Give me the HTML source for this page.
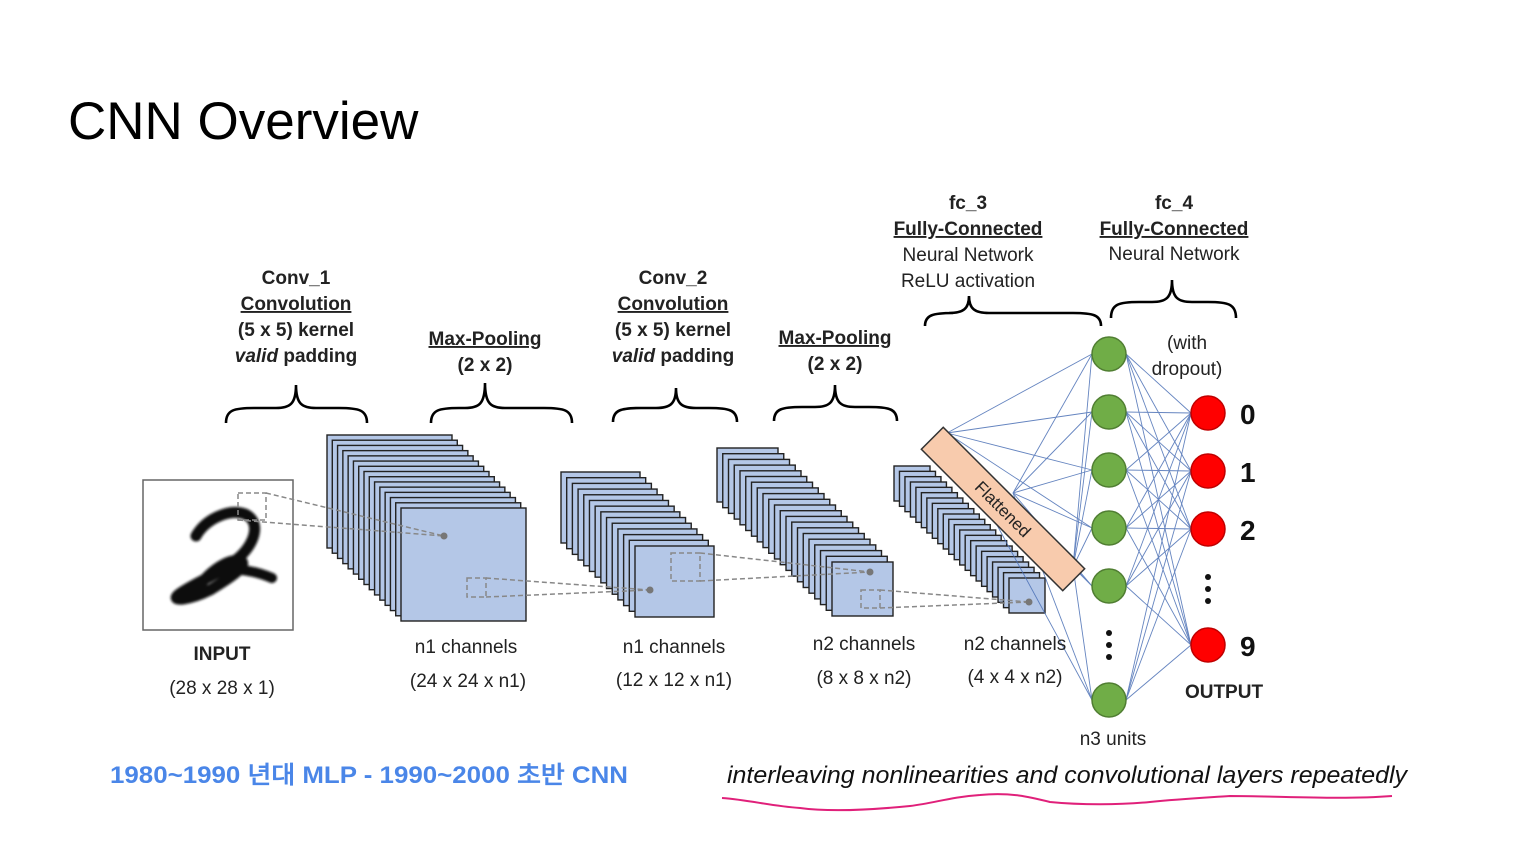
<!DOCTYPE html>
<html><head><meta charset="utf-8">
<style>
html,body{margin:0;padding:0;background:#fff;}
svg{display:block;}
text{font-family:"Liberation Sans",sans-serif;}
</style></head>
<body>
<svg id="s" width="1528" height="858" viewBox="0 0 1528 858" xmlns="http://www.w3.org/2000/svg">
<rect width="1528" height="858" fill="#fff"/>
<text x="68" y="139" font-size="53" fill="#000">CNN Overview</text>

<g id="stacks"></g>
<g id="lines" stroke="#4a6fb5" stroke-width="0.9" opacity="0.85"></g>

<!-- input -->
<rect x="143" y="480" width="150" height="150" fill="#fff" stroke="#666" stroke-width="1.5"/>
<g fill="none" stroke="#111" stroke-linecap="round" stroke-linejoin="round" filter="url(#bl)">
<path d="M196 536 C205 520 228 508 245 514 C262 522 255 545 236 560 C218 575 190 585 178 595 C170 602 190 600 210 590 C230 578 250 565 240 560 C222 560 200 580 195 595" stroke-width="11"/>
<path d="M220 570 C240 568 258 572 272 578" stroke-width="10"/>
</g>
<defs><filter id="bl"><feGaussianBlur stdDeviation="1.2"/></filter></defs>

<!-- dashed connectors -->
<g fill="none" stroke="#888" stroke-width="1.5" stroke-dasharray="5,3">
<rect x="238" y="493" width="28" height="27"/>
<line x1="266" y1="493" x2="444" y2="536"/><line x1="238" y1="520" x2="444" y2="536"/>
<rect x="467" y="578" width="19" height="19"/>
<line x1="486" y1="578" x2="650" y2="590"/><line x1="486" y1="597" x2="650" y2="590"/>
<rect x="671" y="553" width="29" height="28"/>
<line x1="700" y1="553" x2="870" y2="572"/><line x1="700" y1="581" x2="870" y2="572"/>
<rect x="861" y="590" width="19" height="18"/>
<line x1="880" y1="590" x2="1029" y2="602"/><line x1="880" y1="608" x2="1029" y2="602"/>
</g>
<g fill="#777"><circle cx="444" cy="536" r="3.5"/><circle cx="650" cy="590" r="3.5"/><circle cx="870" cy="572" r="3.5"/><circle cx="1029" cy="602" r="3.5"/></g>

<!-- flattened -->
<g transform="translate(1003,509) rotate(45)">
<rect x="-100" y="-15.5" width="200" height="31" fill="#f8cbad" stroke="#333" stroke-width="1.5"/>
<text x="0" y="6" font-size="17" text-anchor="middle" fill="#222">Flattened</text>
</g>

<g id="nodes"></g>

<!-- braces -->
<g id="braces" fill="none" stroke="#000" stroke-width="2.6"></g>

<g font-size="19" fill="#222" text-anchor="middle">
<text x="296" y="284" font-weight="bold">Conv_1</text>
<text x="296" y="310" font-weight="bold" text-decoration="underline">Convolution</text>
<text x="296" y="336" font-weight="bold">(5 x 5) kernel</text>
<text x="296" y="362" font-weight="bold"><tspan font-style="italic">valid</tspan> padding</text>
<text x="485" y="345" font-weight="bold" text-decoration="underline">Max-Pooling</text>
<text x="485" y="371" font-weight="bold">(2 x 2)</text>
<text x="673" y="284" font-weight="bold">Conv_2</text>
<text x="673" y="310" font-weight="bold" text-decoration="underline">Convolution</text>
<text x="673" y="336" font-weight="bold">(5 x 5) kernel</text>
<text x="673" y="362" font-weight="bold"><tspan font-style="italic">valid</tspan> padding</text>
<text x="835" y="344" font-weight="bold" text-decoration="underline">Max-Pooling</text>
<text x="835" y="370" font-weight="bold">(2 x 2)</text>
<text x="968" y="209" font-weight="bold">fc_3</text>
<text x="968" y="235" font-weight="bold" text-decoration="underline">Fully-Connected</text>
<text x="968" y="261">Neural Network</text>
<text x="968" y="287">ReLU activation</text>
<text x="1174" y="209" font-weight="bold">fc_4</text>
<text x="1174" y="235" font-weight="bold" text-decoration="underline">Fully-Connected</text>
<text x="1174" y="260">Neural Network</text>
<text x="1187" y="349">(with</text>
<text x="1187" y="375">dropout)</text>
<text x="222" y="660" font-weight="bold">INPUT</text>
<text x="222" y="694">(28 x 28 x 1)</text>
<text x="466" y="653">n1 channels</text>
<text x="468" y="687">(24 x 24 x n1)</text>
<text x="674" y="653">n1 channels</text>
<text x="674" y="686">(12 x 12 x n1)</text>
<text x="864" y="650">n2 channels</text>
<text x="864" y="684">(8 x 8 x n2)</text>
<text x="1015" y="650">n2 channels</text>
<text x="1015" y="683">(4 x 4 x n2)</text>
<text x="1113" y="745">n3 units</text>
<text x="1224" y="698" font-weight="bold">OUTPUT</text>
</g>
<g font-size="28" font-weight="bold" fill="#111">
<text x="1240" y="424">0</text><text x="1240" y="482">1</text><text x="1240" y="540">2</text><text x="1240" y="656">9</text>
</g>
<g fill="#111"><circle cx="1109" cy="633" r="3"/><circle cx="1109" cy="645" r="3"/><circle cx="1109" cy="657" r="3"/>
<circle cx="1208" cy="577" r="3"/><circle cx="1208" cy="589" r="3"/><circle cx="1208" cy="601" r="3"/></g>

<text x="110" y="783" font-size="24" font-weight="bold" fill="#4a86e8" font-family="Liberation Sans, Noto Sans CJK KR, sans-serif" textLength="518" lengthAdjust="spacingAndGlyphs">1980~1990 년대 MLP - 1990~2000 초반 CNN</text>
<text x="727" y="783" font-size="24" font-style="italic" fill="#111" textLength="680" lengthAdjust="spacingAndGlyphs">interleaving nonlinearities and convolutional layers repeatedly</text>
<path d="M722 798 C750 800 770 806 800 808 C830 812 870 810 910 806 C935 803 950 797 980 795 C1010 792 1030 797 1050 802 C1080 805 1120 805 1150 802 C1180 799 1200 798 1230 796 C1280 796 1340 800 1392 796" fill="none" stroke="#e0207a" stroke-width="2"/>
</svg>
<script>
var NS="http://www.w3.org/2000/svg";
function el(p,t,a){var e=document.createElementNS(NS,t);for(var k in a)e.setAttribute(k,a[k]);p.appendChild(e);return e;}
var st=document.getElementById('stacks');
function stack(bx,by,fx,fy,w,h,n){for(var i=0;i<n;i++){var t=i/(n-1);el(st,'rect',{x:bx+(fx-bx)*t,y:by+(fy-by)*t,width:w,height:h,fill:'#b4c7e7',stroke:'#222','stroke-width':1.4});}}
stack(327,435,401,508,125,113,15);
stack(561,472,635,546,79,71,14);
stack(717,448,832,562,61,54,21);
stack(894,466,1009,578,36,35,22);
var lines=document.getElementById('lines');
var g=[354,412,470,528,586,700],r=[413,471,529,645];
var src=[[947,433],[1013,493],[1073,567]];
src.forEach(function(s){g.forEach(function(y){el(lines,'line',{x1:s[0],y1:s[1],x2:1092,y2:y});});});
g.forEach(function(y){r.forEach(function(y2){el(lines,'line',{x1:1126,y1:y,x2:1191,y2:y2});});});
var nd=document.getElementById('nodes');
g.forEach(function(y){el(nd,'circle',{cx:1109,cy:y,r:17,fill:'#70ad47',stroke:'#507e32','stroke-width':1.5});});
r.forEach(function(y){el(nd,'circle',{cx:1208,cy:y,r:17,fill:'#ff0000',stroke:'#c00000','stroke-width':1.5});});
var br=document.getElementById('braces');
function brace(x1,x2,tip,yb,ym,yt){var d='M'+x1+' '+yb+' C'+x1+' '+(ym+2)+' '+(x1+8)+' '+ym+' '+(x1+28)+' '+ym+' L'+(tip-20)+' '+ym+' C'+(tip-6)+' '+ym+' '+tip+' '+(ym-4)+' '+tip+' '+yt+' C'+tip+' '+(ym-4)+' '+(tip+6)+' '+ym+' '+(tip+20)+' '+ym+' L'+(x2-28)+' '+ym+' C'+(x2-8)+' '+ym+' '+x2+' '+(ym+2)+' '+x2+' '+yb;el(br,'path',{d:d});}
brace(226,367,296,423,408,385);
brace(431,572,485,423,408,383);
brace(613,737,676,422,408,388);
brace(774,897,835,421,407,385);
brace(925,1101,969,326,313,296);
brace(1111,1236,1172,318,302,280);
</script>
</body></html>
